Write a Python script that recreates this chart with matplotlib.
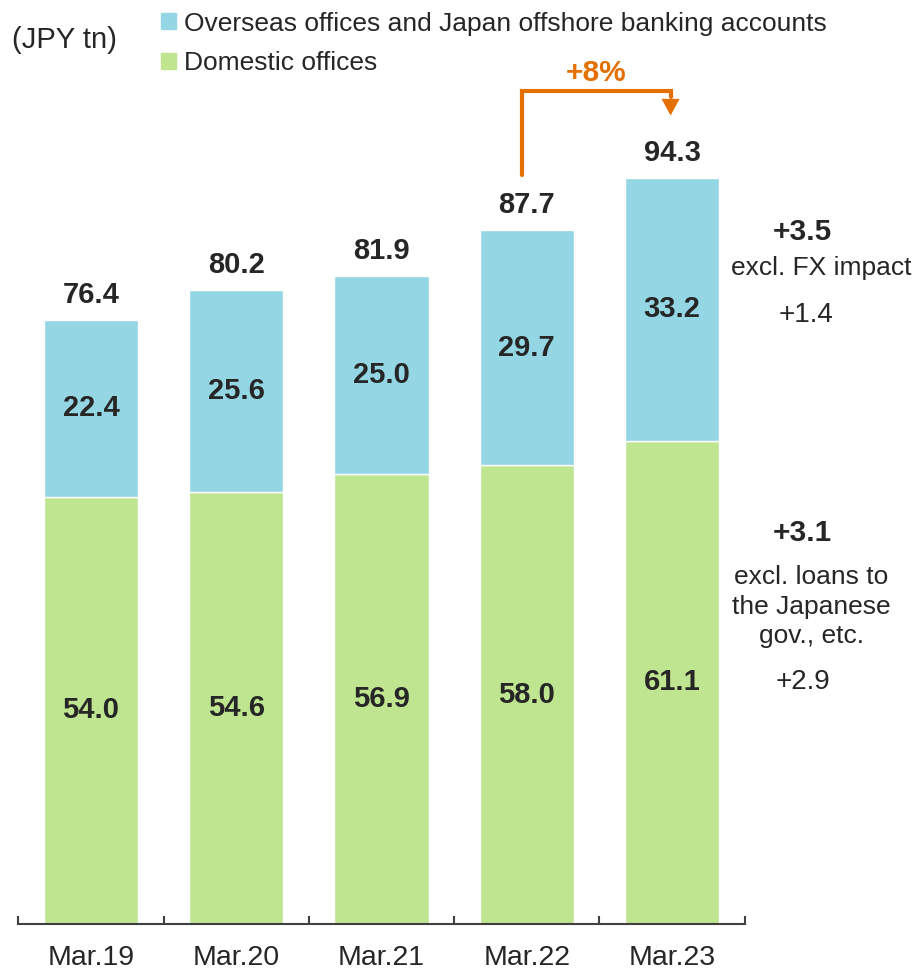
import matplotlib
matplotlib.use("Agg")
import matplotlib.pyplot as plt
from matplotlib.patches import Patch

plt.rcParams['font.family'] = ['Liberation Sans', 'DejaVu Sans']

years = ["Mar.19", "Mar.20", "Mar.21", "Mar.22", "Mar.23"]
domestic = [54.0, 54.6, 56.9, 58.0, 61.1]
overseas = [22.4, 25.6, 25.0, 29.7, 33.2]
totals = [76.4, 80.2, 81.9, 87.7, 94.3]

blue = "#94D6E3"
green = "#BFE591"
orange = "#E37000"
dark = "#262626"

fig = plt.figure(figsize=(9.18, 9.71), dpi=100)
ax = fig.add_axes([0.0199, 0.0484, 0.7913, 0.9516])

x = range(len(years))
ax.bar(x, domestic, width=0.65, color=green, edgecolor="white", linewidth=1)
ax.bar(x, overseas, width=0.65, bottom=domestic, color=blue, edgecolor="white", linewidth=1)

for i in x:
    ax.text(i, domestic[i] / 2, f"{domestic[i]:.1f}", ha="center", va="center",
            fontsize=21, fontweight="bold", color=dark)
    ax.text(i, domestic[i] + overseas[i] / 2, f"{overseas[i]:.1f}", ha="center", va="center",
            fontsize=21, fontweight="bold", color=dark)
    ax.annotate(f"{totals[i]:.1f}", (i, totals[i]), xytext=(0, 18), textcoords="offset points",
                ha="center", va="center", fontsize=21, fontweight="bold", color=dark)

ax.set_xlim(-0.5, 4.5)
ax.set_ylim(0, 116.8)
for s in ["top", "right", "left"]:
    ax.spines[s].set_visible(False)
ax.spines["bottom"].set_color("#404040")
ax.spines["bottom"].set_linewidth(1.5)
ax.set_yticks([])
ax.set_xticks(list(x))
ax.set_xticklabels(years, fontsize=20.5, color=dark)
ax.tick_params(axis="x", which="major", length=0, pad=15)
ax.set_xticks([i - 0.5 for i in range(len(years) + 1)], minor=True)
ax.tick_params(axis="x", which="minor", direction="in", length=6, width=1.5, color="#404040")

# growth arrow Mar.22 -> Mar.23
ax.plot([2.969, 2.969, 3.99, 3.99], [94.7, 105.25, 105.25, 104.5], color=orange, lw=3,
        solid_capstyle="round", solid_joinstyle="miter", clip_on=False)
ax.annotate("", xy=(3.99, 102.2), xytext=(3.99, 105.0),
            arrowprops=dict(arrowstyle="-|>,head_length=1.2,head_width=0.65", mutation_scale=10,
                            color=orange, lw=0, shrinkA=0, shrinkB=0))
ax.text(3.48, 107.6, "+8%", ha="center", va="center", fontsize=21.5, fontweight="bold", color=orange)

# side notes
ax.text(4.90, 87.5, "+3.5", ha="center", va="center", fontsize=21.5, fontweight="bold", color=dark, clip_on=False)
ax.text(5.03, 82.9, "excl. FX impact", ha="center", va="center", fontsize=19, color=dark, clip_on=False)
ax.text(4.92, 77.0, "+1.4", ha="center", va="center", fontsize=20, color=dark, clip_on=False)
ax.text(4.90, 49.4, "+3.1", ha="center", va="center", fontsize=21.5, fontweight="bold", color=dark, clip_on=False)
ax.text(4.96, 40.1, "excl. loans to\nthe Japanese\ngov., etc.", ha="center", va="center",
        fontsize=19, color=dark, linespacing=1.3, clip_on=False)
ax.text(4.90, 30.6, "+2.9", ha="center", va="center", fontsize=20, color=dark, clip_on=False)

fig.text(0.013, 1 - 40 / 971, "(JPY tn)", ha="left", va="center", fontsize=21, color=dark)
handles = [Patch(color=blue), Patch(color=green)]
fig.legend(handles, ["Overseas offices and Japan offshore banking accounts", "Domestic offices"],
           loc="upper left", bbox_to_anchor=(0.1756, 0.988), frameon=False, fontsize=19,
           handlelength=0.55, handleheight=0.55, handletextpad=0.3, labelspacing=0.6,
           borderaxespad=0, borderpad=0, labelcolor=dark)

fig.savefig("out.png", dpi=100)
